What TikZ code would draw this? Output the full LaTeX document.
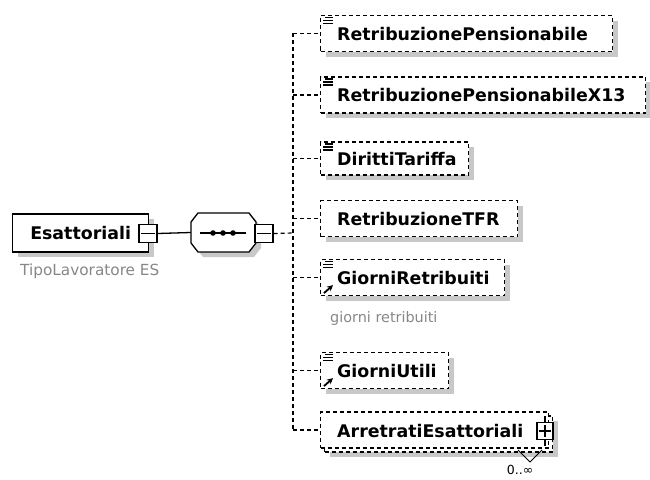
\documentclass[tikz,border=0pt]{standalone}
\usepackage{fontspec}
\setmainfont{DejaVu Sans}
\usetikzlibrary{shadows,arrows.meta}
\definecolor{shadowc}{RGB}{200,200,200}
\definecolor{labelc}{RGB}{135,135,135}
\tikzset{
  dsh/.style={dash pattern=on 4pt off 3pt, line width=1.2pt},
  shad/.style={drop shadow={shadow xshift=5pt, shadow yshift=-5pt, fill=shadowc, opacity=1}},
  elbox/.style={draw, dsh, fill=white, minimum height=36pt, inner sep=0pt, anchor=west, shad},
  frontbox/.style={draw, dsh, fill=white, minimum height=36pt, inner sep=0pt, anchor=west},
  eltext/.style={font=\bfseries\fontsize{17.4}{20}\selectfont, inner sep=0pt, anchor=base west},
  graylabel/.style={text=labelc, inner sep=0pt, anchor=base west},
  pmbox/.style={draw, line width=1.3pt, fill=white, minimum width=18pt, minimum height=18pt, inner sep=0pt},
  solidline/.style={line width=1.3pt},
  iconline/.style={line width=1.4pt},
  refarrow/.style={line width=1.8pt, -{Stealth[length=6pt,width=6pt]}}
}
\newcommand{\eqicon}[1]{%
  \draw[iconline] ([shift={(5,2.5)}]#1.north west) -- ([shift={(13,2.5)}]#1.north west);
  \draw[iconline] ([shift={(3,5.5)}]#1.north west) -- ([shift={(13,5.5)}]#1.north west);
  \draw[iconline] ([shift={(3,8.5)}]#1.north west) -- ([shift={(13,8.5)}]#1.north west);}
\newcommand{\reficon}[1]{%
  \draw[refarrow] ([shift={(4,-3)}]#1.south west) -- ([shift={(13,-11)}]#1.south west);}
\begin{document}
\begin{tikzpicture}[x=1pt,y=-1pt]
\useasboundingbox (0,0) rectangle (650,479);
\clip (0,0) rectangle (650,479);

% main element
\node[draw, solidline, fill=white, minimum width=136pt, minimum height=38pt, inner sep=0pt, anchor=west, shad,
      font=\bfseries\fontsize{17.4}{20}\selectfont] (main) at (12,233) {Esattoriali\hspace{6pt}};
\node[pmbox] (mminus) at (148,233.5) {};
\draw[solidline] ([xshift=3pt]mminus.west) -- ([xshift=-3pt]mminus.east);
\node[graylabel, font=\fontsize{15.3}{18}\selectfont] (mtype) at (20,275) {TipoLavoratore ES};

% sequence compositor
\node[inner sep=0pt, minimum width=65pt, minimum height=39pt] (seq) at (223.5,232.5) {};
\fill[shadowc] (203,218) -- (254,218) -- (261,227) -- (261,248) -- (254,257) -- (203,257) -- (196,248) -- (196,227) -- cycle;
\draw[solidline, fill=white] (198,213) -- (249,213) -- (256,222) -- (256,243) -- (249,252) -- (198,252) -- (191,243) -- (191,222) -- cycle;
\draw[solidline] (200,233) -- (246,233);
\foreach \x in {213,223,233} \fill (\x,233) circle (2.8pt);
\node[pmbox] (sminus) at (264,233.5) {};
\draw[solidline] ([xshift=3pt]sminus.west) -- ([xshift=-3pt]sminus.east);
\draw[solidline] (mminus.east) -- (seq.west);

% bus
\coordinate (bus) at (293,233);
\coordinate (bustop) at (293,33);
\coordinate (busbot) at (293,431);
\draw[dsh] (sminus.east) -- (bus);
\draw[dsh] (bustop) -- (busbot);

% children
\node[elbox, minimum width=292pt] (c1) at (320,33.5) {};
\node[eltext] (t1) at (337,40) {RetribuzionePensionabile};
\eqicon{c1}

\node[elbox, minimum width=325pt] (c2) at (320,95) {};
\node[eltext] (t2) at (337,101.5) {RetribuzionePensionabileX13};
\eqicon{c2}

\node[elbox, minimum width=148pt, minimum height=33pt] (c3) at (320,158.5) {};
\node[eltext] (t3) at (337,165) {DirittiTariffa};
\eqicon{c3}

\node[elbox, minimum width=197pt] (c4) at (320,218.5) {};
\node[eltext] (t4) at (337,225) {RetribuzioneTFR};

\node[elbox, minimum width=184pt] (c5) at (320,277.5) {};
\node[eltext] (t5) at (337,284) {GiorniRetribuiti};
\eqicon{c5}
\reficon{c5}
\node[graylabel, font=\fontsize{14.4}{17}\selectfont] (c5doc) at (330,322) {giorni retribuiti};

\node[elbox, minimum width=128pt] (c6) at (320,370.5) {};
\node[eltext] (t6) at (337,377) {GiorniUtili};
\eqicon{c6}
\reficon{c6}

\node[elbox, minimum width=228pt] (c7b) at (324,434) {};
\node[frontbox, minimum width=228pt] (c7) at (320,430) {};
\node[eltext] (t7) at (337,437) {ArretratiEsattoriali};
\draw[solidline] (545,416) -- (545,446);
\node[pmbox, minimum width=16pt, minimum height=17pt] (c7plus) at (545,431) {};
\draw[solidline] ([xshift=3pt]c7plus.west) -- ([xshift=-3pt]c7plus.east);
\draw[solidline] ([yshift=-3pt]c7plus.north) -- ([yshift=3pt]c7plus.south);
\draw[line width=1pt] (518,450) -- (530,462) -- (542,450);
\node[inner sep=0pt, anchor=north, font=\fontsize{12.5}{14}\selectfont] (c7occ) at (520,465.5) {0..∞};

% branches
\foreach \c in {c1,c2,c3,c4,c5,c6,c7}
  \draw[dsh] (\c.west -| bus) -- (\c.west);
\end{tikzpicture}
\end{document}
